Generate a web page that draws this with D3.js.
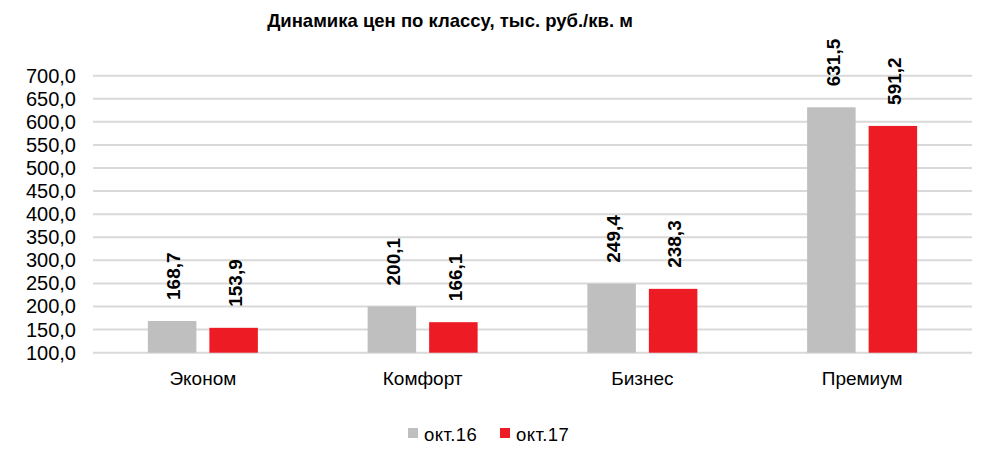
<!DOCTYPE html>
<html><head><meta charset="utf-8">
<script src="https://cdn.jsdelivr.net/npm/d3@7"></script>
<style>body{margin:0;background:#fff;font-family:"Liberation Sans",Arial,sans-serif;}</style>
</head><body><svg id="c" width="981" height="458"></svg>
<script>
const categories = ["Эконом","Комфорт","Бизнес","Премиум"];
const seriesNames = ["окт.16","окт.17"];
const oct16 = [168.7,200.1,249.4,631.5];
const oct17 = [153.9,166.1,238.3,591.2];
const yTicks = [100,150,200,250,300,350,400,450,500,550,600,650,700];
const colors = ["#BFBFBF","#ED1C24"];
const title = "Динамика цен по классу, тыс. руб./кв. м";

const svg = d3.select("#c");
const fmt = v => d3.format(".1f")(v).replace(".", ",");
const margin = {left:93, right:9, top:75.7, bottom:105.3};
const W = 981, H = 458;
const x = d3.scaleBand().domain(categories).range([margin.left, W - margin.right]).paddingInner(0).paddingOuter(0);
const y = d3.scaleLinear().domain([100,700]).range([H - margin.bottom, margin.top]);
const barW = 48.5, gap = 13;
const x1 = d3.scaleOrdinal().domain([0,1]).range([(x.bandwidth() - (2*barW+gap))/2, (x.bandwidth() - (2*barW+gap))/2 + barW + gap]);

svg.append("text").attr("x", 450).attr("y", 27).attr("text-anchor","middle")
  .attr("font-weight","bold").attr("font-size",18.5).attr("fill","#000").text(title);

// grid
svg.append("g").selectAll("line").data(yTicks).join("line")
  .attr("x1", margin.left).attr("x2", W - margin.right)
  .attr("y1", d => y(d)).attr("y2", d => y(d))
  .attr("stroke","#D9D9D9").attr("stroke-width",2);

// y axis
const ya = svg.append("g").attr("transform",`translate(${margin.left},0)`)
  .call(d3.axisLeft(y).tickValues(yTicks).tickFormat(fmt).tickSize(0).tickPadding(17));
ya.select(".domain").remove();
ya.selectAll("text").attr("font-size",20).attr("font-family","Liberation Sans, Arial, sans-serif").attr("fill","#000");

// x axis labels
const xa = svg.append("g").attr("transform",`translate(0,${H - margin.bottom})`)
  .call(d3.axisBottom(x).tickSize(0).tickPadding(19));
xa.select(".domain").remove();
xa.selectAll("text").attr("font-size",19).attr("font-family","Liberation Sans, Arial, sans-serif").attr("fill","#000");

const series = [oct16, oct17];
series.forEach((vals, si) => {
  const g = svg.append("g");
  g.selectAll("rect").data(vals).join("rect")
    .attr("x", (d,i) => x(categories[i]) + x1(si))
    .attr("width", barW)
    .attr("y", d => y(d))
    .attr("height", d => y(100) - y(d))
    .attr("fill", colors[si]);
  g.selectAll("text").data(vals).join("text")
    .attr("transform", (d,i) => `translate(${x(categories[i]) + x1(si) + barW/2 + 1.5},${y(d) - 21}) rotate(-90)`)
    .attr("dy","0.35em")
    .attr("font-weight","bold").attr("font-size",19).attr("fill","#000")
    .text(d => fmt(d));
});

// legend
const leg = svg.append("g");
const legX = [408, 500];
seriesNames.forEach((n, i) => {
  leg.append("rect").attr("x", legX[i]).attr("y", 428).attr("width", 10).attr("height", 10).attr("fill", colors[i]);
  leg.append("text").attr("x", legX[i] + 16).attr("y", 441).attr("font-size",18.5).attr("letter-spacing",0.4).attr("fill","#000").text(n);
});
</script></body></html>
